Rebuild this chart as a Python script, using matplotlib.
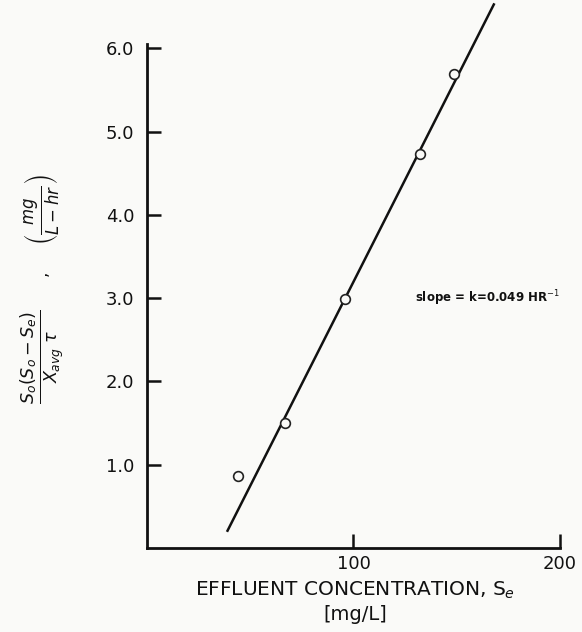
import numpy as np
import matplotlib.pyplot as plt

# datos
conc_x = [44, 67, 96, 132, 148.5]
tasa_y = [0.86, 1.50, 2.99, 4.73, 5.69]

# recta ajustada: pendiente k
k = 0.049
x_recta = np.array([39, 168])
y_recta = k * (x_recta - 96) + 3.0

x_ticks = [100, 200]
x_labels = ["100", "200"]
y_ticks = [1, 2, 3, 4, 5, 6]
y_labels = ["1.0", "2.0", "3.0", "4.0", "5.0", "6.0"]

fig = plt.figure(figsize=(5.82, 6.32), dpi=100)
fig.patch.set_facecolor("#fafaf8")
ax = fig.add_axes([0.2526, 0.133, 0.7094, 0.797])
ax.set_facecolor("#fafaf8")

ax.plot(x_recta, y_recta, color="#111111", lw=1.8, clip_on=False, zorder=2)
ax.plot(conc_x, tasa_y, "o", ms=7, mfc="#fafaf8", mec="#222222", mew=1.2, zorder=3)

ax.set_xlim(0, 200)
ax.set_ylim(0, 6.05)

for s in ["top", "right"]:
    ax.spines[s].set_visible(False)
for s in ["left", "bottom"]:
    ax.spines[s].set_linewidth(2)
    ax.spines[s].set_color("#111111")

ax.set_xticks(x_ticks)
ax.set_xticklabels(x_labels)
ax.set_yticks(y_ticks)
ax.set_yticklabels(y_labels)
ax.tick_params(direction="in", length=10, width=1.8, labelsize=13, colors="#111111")
ax.tick_params(axis="y", pad=9)
ax.tick_params(axis="x", pad=5)

ax.text(130, 3.0, "slope = k=0.049 HR$^{-1}$", fontsize=8.5, ha="left", va="center",
        color="#111111", fontweight="bold")

fig.text(0.61, 0.066, "EFFLUENT CONCENTRATION, S$_e$", fontsize=14.5, ha="center", va="center",
         color="#111111")
fig.text(0.61, 0.027, "[mg/L]", fontsize=14, ha="center", va="center", color="#111111")

fig.text(0.074, 0.435, r"$\frac{S_o(S_o - S_e)}{X_{avg}\ \tau}$", fontsize=18, rotation=90,
         ha="center", va="center", color="#111111")
fig.text(0.072, 0.568, ",", fontsize=12, rotation=90, ha="center", va="center", color="#111111")
fig.text(0.072, 0.668, r"$\left(\frac{mg}{L-hr}\right)$", fontsize=17, rotation=90,
         ha="center", va="center", color="#111111")

fig.savefig("out.png", dpi=100, facecolor=fig.get_facecolor())
